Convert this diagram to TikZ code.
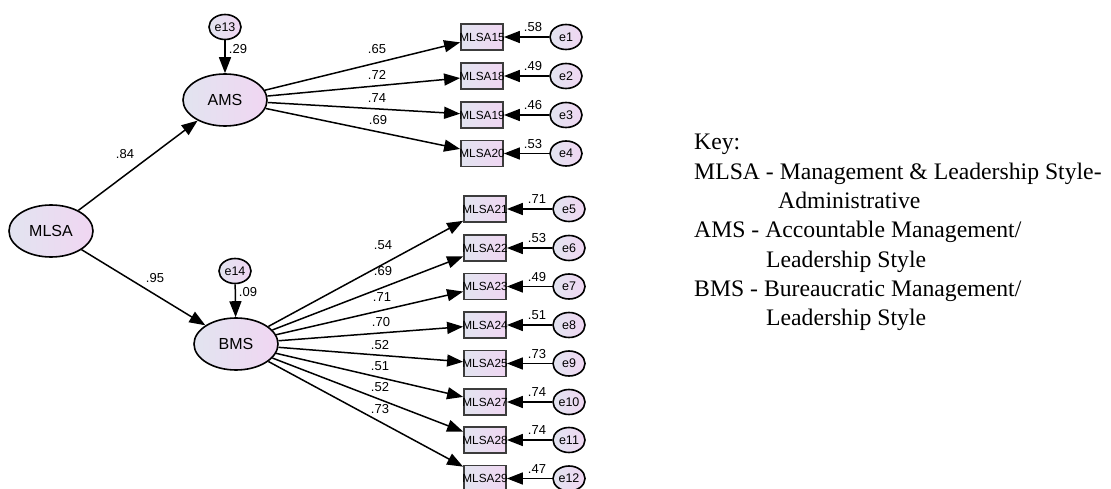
\documentclass[tikz,border=0pt]{standalone}
\usepackage{fontspec}
\setmainfont{Liberation Serif}
\newfontfamily\arialfont{Liberation Sans}
\usetikzlibrary{shapes.geometric,arrows.meta}
\definecolor{shadeL}{RGB}{226,228,240}
\definecolor{shadeR}{RGB}{240,214,242}
\definecolor{boxline}{RGB}{60,60,60}
\begin{document}
\begin{tikzpicture}[x=1pt,y=-1pt,
  latent/.style={ellipse, draw=black, line width=1.6pt, left color=shadeL, right color=shadeR,
    minimum width=84pt, minimum height=52pt, inner sep=0pt,
    font=\arialfont\fontsize{16}{18}\selectfont},
  errvar/.style={ellipse, draw=black, line width=1.6pt, left color=shadeL, right color=shadeR,
    minimum width=32pt, minimum height=25pt, inner sep=0pt,
    font=\arialfont\fontsize{12.5}{14}\selectfont},
  obs/.style={rectangle, draw=boxline, line width=1.8pt, left color=shadeL, right color=shadeR,
    minimum width=42pt, minimum height=26pt, inner sep=0pt,
    font=\arialfont\fontsize{11.8}{13}\selectfont},
  conn/.style={line width=1.5pt, -{Triangle[length=16pt,width=12pt]}},
  coef/.style={inner sep=0pt, font=\arialfont\fontsize{13}{14}\selectfont},
  keytext/.style={anchor=base west, inner sep=0pt, font=\fontsize{23.7}{28}\selectfont}]
\useasboundingbox (0,0) rectangle (1111,489);

% latent variables and their disturbances
\node[latent] (MLSA) at (51,231) {MLSA};
\node[latent] (AMS) at (225,100) {AMS};
\node[latent] (BMS) at (236,344) {BMS};
\node[errvar] (e13) at (225,27) {e13};
\node[errvar] (e14) at (235,271) {e14};

\draw[conn] (MLSA) -- (AMS);
\draw[conn] (MLSA) -- (BMS);
\draw[conn] (e13) -- (AMS);
\draw[conn] (e14) -- (BMS);
\node[coef] (c84) at (125,154) {.84};
\node[coef] (c95) at (155,278) {.95};
\node[coef] (c29) at (238,49) {.29};
\node[coef] (c09) at (248,292) {.09};

% indicators of AMS
\foreach \i/\y/\ld/\lx/\ly/\rs [count=\k] in
  {15/37/.65/377/49/.58, 18/76/.72/377/75/.49, 19/115/.74/377/98/.46, 20/153.5/.69/378/120/.53}{
  \node[obs] (m\i) at (482,\y) {\makebox[0pt]{MLSA\i}};
  \node[errvar] (e\k) at (566,\y) {e\k};
  \draw[conn] (AMS) -- (m\i);
  \draw[conn] (e\k) -- (m\i);
  \node[coef] (ld\i) at (\lx,\ly) {\ld};
  \node[coef] (rs\i) at (533,\y-9.5) {\rs};
}

% indicators of BMS
\foreach \i/\y/\ld/\lx/\ly/\rs [count=\k from 5] in
  {21/209/.54/383/245/.71, 22/248/.69/383/271/.53, 23/286.5/.71/382/297/.49,
   24/325/.70/381/322/.51, 25/363.5/.52/380/345/.73, 27/402/.51/380/366/.74,
   28/440/.52/380/387/.74, 29/478.5/.73/380/409/.47}{
  \node[obs] (m\i) at (485,\y) {\makebox[0pt]{MLSA\i}};
  \node[errvar] (e\k) at (569,\y) {e\k};
  \draw[conn] (BMS) -- (m\i);
  \draw[conn] (e\k) -- (m\i);
  \node[coef] (ld\i) at (\lx,\ly) {\ld};
  \node[coef] (rs\i) at (537,\y-9.5) {\rs};
}

% key
\node[keytext] (key0) at (694,150) {Key:};
\node[keytext] (key1) at (694,179.3) {MLSA - Management \& Leadership Style-};
\node[keytext] (key2) at (778,208.6) {Administrative};
\node[keytext] (key3) at (694,237.9) {AMS - Accountable Management/};
\node[keytext] (key4) at (766,267.2) {Leadership Style};
\node[keytext] (key5) at (694,296.5) {BMS - Bureaucratic Management/};
\node[keytext] (key6) at (766,325.8) {Leadership Style};
\end{tikzpicture}
\end{document}
